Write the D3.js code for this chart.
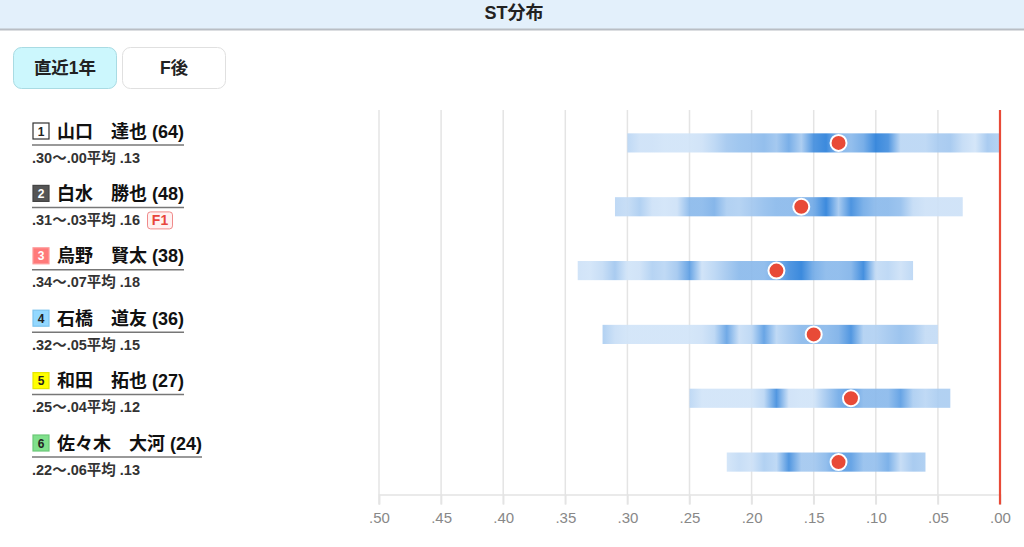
<!DOCTYPE html>
<html lang="ja">
<head>
<meta charset="utf-8">
<title>ST分布</title>
<script src="https://cdn.jsdelivr.net/npm/d3@7"></script>
<style>
  body { margin: 0; background: #fff; }
  svg { display: block; font-family: "Liberation Sans", "Noto Sans CJK JP", sans-serif; }
</style>
</head>
<body>
<script>
// racers
var waku = [1, 2, 3, 4, 5, 6];
var names = ["山口　達也 (64)", "白水　勝也 (48)", "烏野　賢太 (38)", "石橋　道友 (36)", "和田　拓也 (27)", "佐々木　大河 (24)"];
var stMax = [0.30, 0.31, 0.34, 0.32, 0.25, 0.22];
var stMin = [0.00, 0.03, 0.07, 0.05, 0.04, 0.06];
var stAvg = [0.13, 0.16, 0.18, 0.15, 0.12, 0.13];
var flying = ["", "F1", "", "", "", ""];

// density level per .01 step, from max down to min
var density = [
  [1.0,0.6,0.6,0.5,0.5,0.5,0.6,1.0,1.5,1.7,1.8,2.0,1.6,2.6,1.4,3.5,4.0,2.2,2.0,2.6,4.0,3.5,1.0,1.0,1.0,1.4,1.5,0.8,0.5,1.5,1.2],
  [1.0,0.8,1.3,0.6,0.5,0.6,2.0,2.0,2.3,1.3,1.2,1.5,1.8,2.0,2.0,2.2,2.6,4.0,1.5,3.6,2.5,2.0,2.0,1.8,0.8,0.6,0.6,0.6,0.6],
  [0.6,0.5,0.8,1.5,0.5,0.6,1.2,1.0,1.5,3.0,0.6,1.0,1.5,2.0,2.0,2.0,2.5,3.5,4.0,2.5,2.0,2.0,2.2,3.8,0.8,1.0,0.6,1.0],
  [1.3,0.7,0.5,0.5,0.5,0.5,0.5,0.5,0.6,1.0,2.8,0.7,1.0,3.0,1.0,1.5,2.0,2.0,2.0,2.3,3.5,1.2,1.2,1.5,1.8,1.5,0.8,0.8],
  [1.0,0.5,0.5,0.5,0.5,0.5,1.0,3.5,0.6,0.5,0.5,1.5,2.5,3.0,2.0,2.0,2.0,3.0,1.3,1.0,1.3,1.3],
  [0.5,0.8,0.6,1.3,1.0,3.5,1.5,1.5,2.0,3.0,3.0,1.8,1.8,2.5,0.8,1.5,1.3]
];

var ticks = [0.50, 0.45, 0.40, 0.35, 0.30, 0.25, 0.20, 0.15, 0.10, 0.05, 0.00];

var wakuFill = ["#ffffff", "#555555", "#ff7a7a", "#93d8ff", "#ffff00", "#80e08c"];
var wakuText = ["#222", "#fff", "#fff", "#222", "#222", "#222"];
var wakuStroke = ["#333", "#444", "#ff9a9a", "#7cc4ee", "#e6e600", "#6cc878"];

var W = 1024, H = 547;
var fmt = function(v) { return d3.format(".2f")(v).replace(/^0/, ""); };

var svg = d3.select("body").append("svg").attr("width", W).attr("height", H);

// header
svg.append("rect").attr("x", 0).attr("y", 0).attr("width", W).attr("height", 29).attr("fill", "#e3f0fb");
svg.append("line").attr("x1", 0).attr("x2", W).attr("y1", 29.5).attr("y2", 29.5).attr("stroke", "#b9bec4").attr("stroke-width", 2);
svg.append("text").attr("x", 514).attr("y", 19).attr("text-anchor", "middle")
  .attr("font-size", 18).attr("font-weight", "bold").attr("fill", "#222").text("ST分布");

// buttons
var btns = [{ t: "直近1年", x: 13, on: true }, { t: "F後", x: 122, on: false }];
btns.forEach(function(b) {
  svg.append("rect").attr("x", b.x + 0.5).attr("y", 47.5).attr("width", 103).attr("height", 41).attr("rx", 8)
    .attr("fill", b.on ? "#ccf7fd" : "#fff").attr("stroke", b.on ? "#a9dbe3" : "#e0e0e0");
  svg.append("text").attr("x", b.x + 52).attr("y", 74).attr("text-anchor", "middle")
    .attr("font-size", 17.5).attr("font-weight", "bold").attr("fill", "#222").text(b.t);
});

// left labels
var labelY = d3.scalePoint().domain(waku).range([131, 443]);
waku.forEach(function(w, i) {
  var y = labelY(w);
  var g = svg.append("g").attr("transform", "translate(0," + y + ")");
  g.append("rect").attr("x", 33).attr("y", -8).attr("width", 16).attr("height", 16)
    .attr("fill", wakuFill[i]).attr("stroke", wakuStroke[i]).attr("stroke-width", 1.2);
  g.append("text").attr("x", 41).attr("y", 4.5).attr("text-anchor", "middle")
    .attr("font-size", 12).attr("font-weight", "bold").attr("fill", wakuText[i]).text(w);
  var nm = g.append("text").attr("x", 57).attr("y", 6.5).attr("font-size", 18).attr("font-weight", "bold")
    .attr("fill", "#111").text(names[i]);
  var x2 = 57 + nm.node().getComputedTextLength();
  g.append("line").attr("x1", 32).attr("x2", x2).attr("y1", 14).attr("y2", 14).attr("stroke", "#777").attr("stroke-width", 1.5);
  var sub = g.append("text").attr("x", 32).attr("y", 31.5).attr("font-size", 14.5).attr("font-weight", "bold").attr("fill", "#333")
    .text(fmt(stMax[i]) + "～" + fmt(stMin[i]) + "平均 " + fmt(stAvg[i]));
  if (flying[i]) {
    var fx = 32 + sub.node().getComputedTextLength() + 7;
    g.append("rect").attr("x", fx + 0.5).attr("y", 18.5).attr("width", 25).attr("height", 17).attr("rx", 3)
      .attr("fill", "#fff1f1").attr("stroke", "#f08a8a");
    g.append("text").attr("x", fx + 13).attr("y", 32).attr("text-anchor", "middle")
      .attr("font-size", 14).attr("font-weight", "bold").attr("fill", "#e8453c").text(flying[i]);
  }
});

// chart
var x = d3.scaleLinear().domain([0.5, 0]).range([379, 1000]);
var y = d3.scaleBand().domain(waku).range([111, 494]).paddingInner(0.7).paddingOuter(0.35);
var color = d3.scaleLinear().domain([0, 4]).range(["#e9f2fc", "#2b80da"]);
var axisY = 494.5;

// grid
svg.append("g").selectAll("line").data(ticks).join("line")
  .attr("x1", function(d) { return x(d); }).attr("x2", function(d) { return x(d); })
  .attr("y1", 110).attr("y2", axisY + 10)
  .attr("stroke", "#e4e4e4").attr("stroke-width", 1.5);

// gradients
var defs = svg.append("defs");
waku.forEach(function(w, i) {
  var grad = defs.append("linearGradient").attr("id", "g" + w)
    .attr("x1", "0%").attr("x2", "100%").attr("y1", "0%").attr("y2", "0%");
  var n = density[i].length;
  density[i].forEach(function(v, k) {
    grad.append("stop").attr("offset", (k / (n - 1) * 100) + "%").attr("stop-color", color(v));
  });
});

svg.append("g").selectAll("rect").data(waku).join("rect")
  .attr("x", function(d, i) { return x(stMax[i]); })
  .attr("width", function(d, i) { return x(stMin[i]) - x(stMax[i]); })
  .attr("y", function(d) { return y(d); })
  .attr("height", y.bandwidth())
  .attr("fill", function(d) { return "url(#g" + d + ")"; })
  .attr("opacity", 0.92);

// axis
var axis = d3.axisBottom(x).tickValues(ticks).tickSize(10).tickPadding(8).tickFormat(fmt);
var ag = svg.append("g").attr("transform", "translate(0," + axisY + ")").call(axis);
ag.select(".domain").attr("stroke", "#e4e4e4").attr("stroke-width", 1.5);
ag.selectAll(".tick line").attr("stroke", "#e4e4e4").attr("stroke-width", 1.5);
ag.selectAll(".tick text").attr("fill", "#888").attr("font-size", 15)
  .attr("font-family", "\"Liberation Sans\", sans-serif");

// zero line
svg.append("line").attr("x1", x(0)).attr("x2", x(0)).attr("y1", 110).attr("y2", axisY + 10)
  .attr("stroke", "#e84a37").attr("stroke-width", 2.2);

// averages
svg.append("g").selectAll("circle").data(waku).join("circle")
  .attr("cx", function(d, i) { return x(stAvg[i]); })
  .attr("cy", function(d) { return y(d) + y.bandwidth() / 2; })
  .attr("r", 8).attr("fill", "#e84a37").attr("stroke", "#fff").attr("stroke-width", 2);
</script>
</body>
</html>
